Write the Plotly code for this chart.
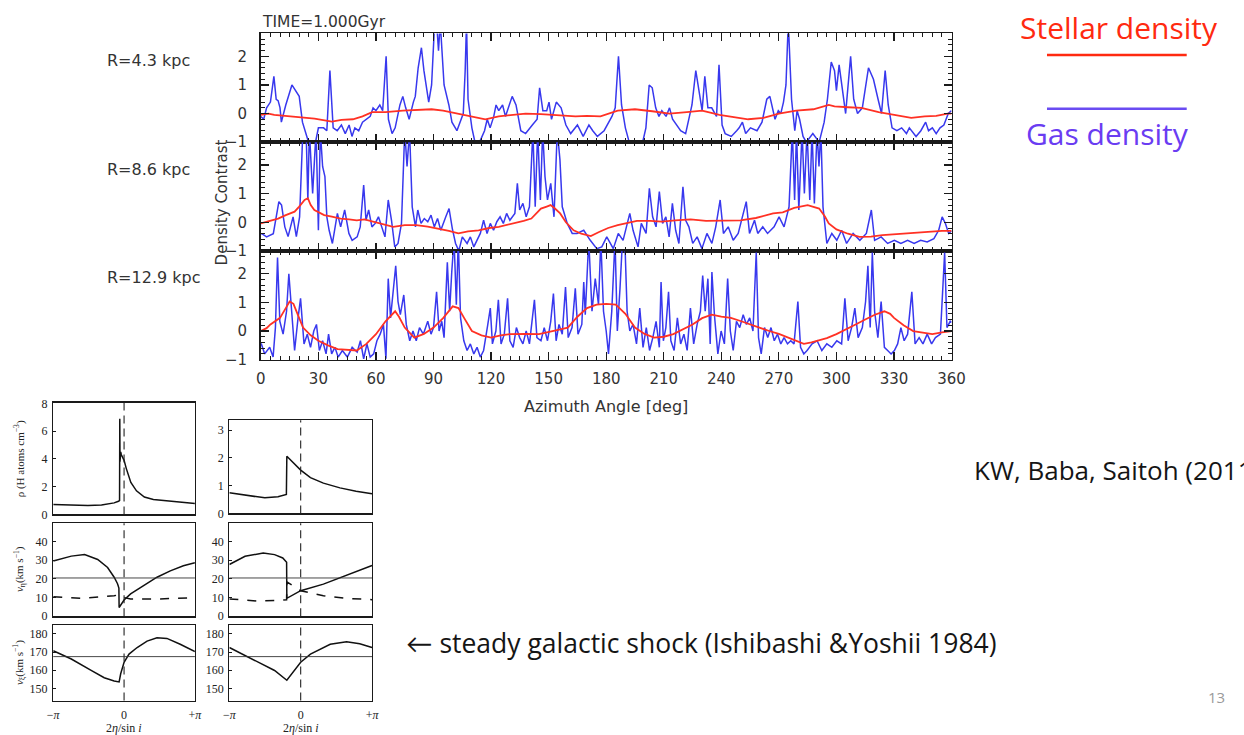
import math
import plotly.graph_objects as go

# ------------------------------------------------------------------ data
# (azimuth deg, density contrast)
R43_GAS = [(0,-0.1),(1.5,-0.2),(3,0.2),(5,0.4),(6.8,1.3),(8,0.5),(9,0.45),(10,0.2),(10.7,-0.3),(13,0.3),(16.2,1.0),(18.3,0.8),(20,0.6),(21.7,-0.3),(24.4,-0.9),(26,-1.0),(28.5,-1.0),(30,-0.5),(32.7,-0.5),(34.4,-0.6),(36,1.5),(37.7,-0.5),(39.8,-0.6),(42,-0.4),(44,-0.7),(46,-0.4),(47.5,-0.8),(49,-0.5),(51,-0.6),(53,-0.3),(55,-0.2),(57,-0.1),(58.5,0.2),(60,0.1),(62,0.3),(63.5,0.1),(65.3,2.0),(66.5,-0.2),(68.4,-0.7),(70,-0.5),(72.5,0.3),(74,0.6),(75.5,0.2),(77.3,-0.2),(79.5,0.4),(80.5,0.6),(82,1.6),(83.7,2.3),(85,1.5),(86.5,0.8),(87.5,0.4),(89,1.0),(90,2.0),(90.6,3.2),(92,2.8),(92.6,2.2),(93.5,3.2),(95.5,1.0),(98,0.3),(99.6,-0.3),(102.2,-0.6),(104,-0.3),(105.5,0.0),(106.5,1.5),(107.2,3.2),(108,0.5),(110,-0.5),(111.6,-1.0),(114,-1.0),(116.6,-0.6),(118,-0.2),(119.5,-0.5),(121.4,-0.1),(122.6,0.3),(124,0.1),(126,0.3),(127.5,-0.1),(131,0.6),(133,0.3),(135.5,-0.6),(138,-0.7),(141.5,-0.4),(144,-0.2),(145.3,0.9),(147,0.1),(149,0.1),(150.2,0.4),(151.5,-0.2),(154,0.4),(156.5,0.2),(159,-0.4),(161.5,-0.7),(165,-0.4),(168,-0.8),(171,-0.4),(173,-0.6),(175.4,-0.8),(178.9,-0.6),(183,-0.1),(184.7,0.2),(186.4,2.0),(188,0.3),(190,-0.5),(192,-1.0),(195.6,-1.0),(199,-1.0),(200.7,-0.5),(202.4,1.0),(204,0.9),(205.8,0.2),(207.5,-0.1),(209,0.1),(211.2,-0.1),(213,0.2),(214.6,-0.2),(218.8,-0.6),(221.4,-0.7),(223,-0.2),(224.7,0.3),(226.7,1.5),(228.5,0.8),(230,0.1),(231.4,1.3),(233,0.2),(235,0.2),(237.5,-0.1),(238.8,1.7),(240.4,-0.4),(242,-0.7),(245.2,-0.8),(248,-0.6),(249.3,-0.5),(251,-0.3),(252.7,-0.7),(255.2,-0.5),(258.6,-0.6),(261.2,-0.3),(263.7,0.5),(265.3,0.6),(268,-0.2),(269.7,0.1),(271,0.0),(272.4,0.4),(273.7,1.0),(274.9,3.2),(276.6,0.5),(278.3,-0.6),(279.5,0.1),(280.8,-0.2),(282.6,-0.8),(284.3,-1.0),(287.7,-0.7),(291,-1.0),(293.6,-0.3),(295.3,0.5),(297.3,1.8),(299,1.5),(300,0.8),(301.4,1.7),(303.5,0.6),(304.8,0.0),(307.4,2.0),(309,0.5),(311,0.0),(313.5,0.2),(316.7,1.6),(319.3,1.2),(321.7,0.5),(323.5,0.0),(325.4,1.5),(327,0.3),(329,-0.5),(331.5,-0.6),(334,-0.5),(336.5,-0.7),(338,-0.5),(341.5,-0.8),(344,-0.6),(346.5,-0.3),(348,-0.6),(350,-0.5),(352,-0.7),(354,-0.5),(356,-0.4),(358.3,0.0),(360,0.1)]

R43_STAR = [(0,-0.05),(4,0.0),(7,-0.05),(12,-0.08),(20,-0.15),(28,-0.18),(37,-0.28),(42,-0.22),(48,-0.2),(53,-0.1),(58,0.05),(65,0.05),(74,0.1),(82,0.12),(89,0.15),(95,0.1),(102,0.0),(107,-0.05),(112,-0.12),(117,-0.2),(124,-0.1),(130,-0.05),(138,0.0),(146,-0.02),(155,-0.05),(164,-0.1),(170,-0.08),(177,-0.1),(186,0.1),(195,0.15),(204,0.08),(213,0.0),(222,0.05),(230,0.1),(239,-0.05),(246,-0.12),(254,-0.2),(262,-0.15),(270,0.0),(279,0.1),(288,0.15),(296,0.3),(299,0.25),(306,0.22),(313,0.2),(322,0.05),(331,-0.05),(339,-0.15),(346,-0.1),(352,-0.08),(358,0.0),(360,0.0)]

R86_GAS = [(0,-0.4),(0.5,-0.4),(3,-0.51),(6.5,-0.4),(9.4,0.72),(10.8,0.6),(12.5,-0.16),(14.2,-0.5),(16.8,0.19),(18.5,-0.5),(20.2,0.19),(21.9,3.2),(23.6,3.2),(24.5,0.78),(25.3,3.2),(27,1.01),(28.8,3.2),(30,-0.28),(31,3.2),(32.2,1.95),(33.4,1.6),(34.4,0.19),(35.6,-0.28),(37.3,-0.74),(39.9,0.31),(41.6,-0.16),(43.7,0.43),(45.9,-0.39),(47.6,-0.63),(50.2,-0.51),(51.8,-0.16),(53.6,1.3),(54.8,0.07),(56.2,0.43),(57.9,-0.16),(59.6,-0.04),(61.3,0.19),(63,-0.16),(64.7,-0.51),(66.4,0.78),(68.1,0.07),(69.8,-0.86),(71.5,-0.74),(73.3,-0.04),(75,3.2),(76.2,1.95),(77.5,3.2),(78.9,0.54),(80.6,-0.16),(81.8,0.43),(83.5,-0.04),(85.2,0.13),(87,0.02),(88.7,0.25),(90.4,-0.16),(92.1,0.13),(93.8,-0.28),(96.4,0.19),(98.1,0.48),(99.8,-0.22),(101.5,-0.74),(103.2,-1.0),(105,-0.51),(107.5,-0.74),(109.2,-0.51),(111,-0.86),(112.7,-0.63),(114.4,-0.39),(116.1,0.07),(117.9,-0.39),(119.6,-0.04),(121.3,-0.28),(123,0.02),(124.7,0.19),(126.4,-0.04),(128.1,0.31),(129.8,0.07),(132.4,0.31),(133.7,1.36),(134.9,0.43),(136.6,0.66),(138.3,0.19),(140,0.54),(141.8,3.2),(143,0.54),(144.3,3.2),(145.7,0.78),(146.9,3.2),(148.1,1.6),(149.4,0.78),(151.1,1.36),(152.8,0.19),(154.5,3.2),(155.9,2.18),(157.1,0.54),(159.7,-0.04),(162.3,-0.39),(164.8,-0.39),(168.3,-0.28),(171.7,-0.63),(175.1,-0.92),(177.7,-0.86),(180.3,-0.51),(183.7,-0.92),(186.3,-0.39),(188.8,-0.63),(192.3,0.31),(194,-0.28),(196.6,-0.86),(198.3,-0.04),(200.8,-0.39),(202.5,1.19),(204.2,0.19),(206,-0.16),(207.7,1.07),(209.4,-0.04),(211.1,0.19),(212.8,-0.51),(214.5,0.66),(216.2,-0.28),(217.9,-0.74),(220,1.24),(221.4,0.07),(223.1,-0.16),(225.1,-0.74),(227.4,-0.51),(229.9,-0.92),(232.5,-0.39),(235.1,-0.74),(237.1,-0.16),(239.4,0.78),(241.1,-0.39),(243.6,-0.16),(246.2,-0.63),(248.8,-0.39),(251.3,0.31),(253,0.72),(254.7,-0.39),(257.3,0.07),(259,-0.39),(261.6,-0.16),(264.1,-0.39),(267.5,-0.16),(270.1,0.19),(272.7,-0.16),(275.3,0.54),(277,3.2),(278.2,0.78),(279.2,3.2),(280.4,0.43),(282.1,3.2),(283.3,1.01),(284.7,3.2),(286.1,0.78),(287.3,3.2),(288.5,0.66),(289.9,3.2),(290.9,1.95),(291.9,3.2),(293,0.54),(295,-0.74),(297.6,-0.39),(300.2,-0.63),(302.7,-0.28),(305.3,-0.74),(308.7,-0.39),(312.2,-0.63),(315.6,-0.39),(318.2,0.43),(319.9,-0.63),(323.3,-0.51),(326.7,-0.74),(330.2,-0.63),(333.6,-0.74),(337.1,-0.63),(340.5,-0.74),(343.9,-0.63),(347.3,-0.69),(350.8,-0.57),(353.3,-0.28),(355.1,0.19),(356.8,-0.04),(358.5,-0.39),(360,-0.3)]

R86_STAR = [(0,-0.04),(5,0.05),(9,0.13),(13,0.25),(17.6,0.37),(20,0.55),(22.8,0.78),(24.5,0.84),(26,0.6),(27.9,0.43),(33,0.25),(37,0.2),(41.6,0.13),(46,0.1),(50,0.07),(54,0.1),(58.8,0.02),(64,-0.05),(69,-0.16),(75,-0.1),(81,-0.1),(87,-0.15),(93,-0.22),(98,-0.3),(103,-0.39),(108,-0.32),(113.5,-0.28),(119,-0.2),(124,-0.16),(128,-0.1),(132,-0.04),(137,0.05),(141,0.13),(144,0.35),(146,0.48),(149,0.55),(151,0.6),(153,0.5),(156,0.31),(159,0.0),(163,-0.28),(167,-0.4),(172,-0.48),(176,-0.35),(181,-0.2),(186,-0.1),(190,-0.04),(196,0.05),(203,0.05),(209,0.02),(216,0.07),(224,0.1),(232,0.05),(240,0.05),(250,0.07),(258,0.15),(267,0.31),(272,0.35),(278,0.5),(285,0.6),(288,0.55),(291,0.48),(294,0.2),(296,-0.04),(300,-0.25),(306,-0.4),(312,-0.51),(318,-0.5),(324,-0.45),(330,-0.42),(336,-0.39),(343,-0.35),(350,-0.33),(355,-0.3),(360,-0.3)]

R129_GAS = [(0,-0.45),(0.3,-0.45),(2,-0.8),(4.6,-0.57),(6.4,-0.91),(7.6,0.12),(8.7,2.57),(9.9,0.34),(11.6,-0.11),(13.4,0.69),(14.6,2.0),(15.9,0.8),(17.6,-0.68),(19.4,0.46),(20.7,1.14),(22.5,-0.45),(24.2,-0.11),(25.9,-0.57),(27.6,0.0),(29,0.23),(30.5,-0.68),(32.2,-0.34),(34,-0.8),(35.3,-0.11),(36.9,-0.8),(38.6,-0.57),(40.3,-0.91),(42.5,-0.68),(45.1,-0.91),(47.6,-0.57),(50.2,-0.74),(51.9,-0.34),(53.6,-0.97),(55.3,-0.45),(57,-0.91),(58.8,-0.8),(60.5,-0.34),(62.2,-0.11),(63.9,0.23),(65.2,-0.97),(66.4,1.83),(67.6,0.46),(69,1.37),(70.3,2.28),(71.5,1.03),(72.7,0.57),(74.5,1.26),(75.8,0.23),(77.6,-0.34),(79.3,0.0),(81,-0.34),(82.7,0.12),(84.7,-0.11),(87,0.34),(88.7,-0.11),(90,0.12),(91.6,1.37),(92.9,0.0),(94.3,0.34),(95.5,-0.23),(97.2,2.4),(98.4,0.69),(99.5,2.06),(100.7,3.2),(101.9,0.92),(102.9,3.2),(104.1,0.46),(105.8,-0.34),(107.5,-0.68),(109.2,-0.45),(111,-0.8),(112.7,-0.57),(114.4,-0.91),(116.1,-0.68),(118.3,0.23),(119.6,0.8),(120.7,-0.45),(122.5,0.0),(123.8,1.09),(125.2,-0.45),(126.9,-0.11),(128.6,1.14),(129.8,-0.34),(131.5,-0.57),(133.2,0.12),(134.9,-0.23),(136.6,-0.45),(138.3,0.0),(140,-0.45),(142.6,1.09),(143.9,-0.23),(146,-0.34),(147.7,0.12),(149.4,-0.34),(151.1,0.34),(152.5,1.31),(153.9,-0.34),(155.4,0.23),(157.1,-0.11),(158.8,1.54),(160.2,-0.23),(162.2,0.12),(163.9,1.49),(165.3,-0.11),(167.3,0.23),(168.3,1.71),(169.1,0.57),(170.9,3.2),(172.6,0.69),(174.3,1.83),(176,0.92),(177.2,3.2),(178.6,0.69),(180,0.0),(181.2,-0.8),(182.9,0.69),(184.6,3.2),(185.8,0.0),(187.2,1.49),(188.5,3.2),(189.7,3.2),(190.9,0.69),(192.3,0.0),(194,0.23),(195.8,-0.45),(197.5,0.8),(199.2,-0.57),(200.9,0.12),(202.6,-0.68),(204.3,-0.23),(206,0.34),(207.7,-0.57),(208.6,1.71),(209.8,-0.34),(211.1,0.12),(212.5,1.37),(213.7,-0.34),(215.4,-0.68),(217.1,0.46),(218.8,-0.45),(220.5,-0.11),(222.2,-0.68),(223.9,0.8),(225.6,-0.45),(227.4,0.23),(229.1,0.69),(230.3,1.94),(231.6,0.69),(233,1.83),(234.2,-0.45),(235.1,2.06),(236.4,0.57),(238.2,-0.8),(239.9,0.0),(241.6,-0.45),(243.3,1.83),(244.7,0.0),(246.2,-0.68),(247.9,0.34),(249.6,0.12),(251.4,0.57),(253.1,0.23),(254.8,0.46),(256.5,0.0),(258.2,2.74),(259.4,-0.23),(260.8,-0.8),(262.5,0.12),(264.2,-0.23),(265.9,0.12),(267.6,-0.34),(269.3,-0.11),(271,-0.45),(272.7,-0.23),(274.5,-0.45),(276.2,-0.34),(277.9,-0.45),(279.9,1.03),(281.3,-0.57),(283,-0.8),(284.7,-0.68),(287.3,-0.45),(289.9,-0.34),(292.4,-0.68),(295,-0.45),(297.6,-0.57),(300.2,-0.34),(302.7,-0.45),(304.4,1.14),(306.1,-0.34),(307.9,0.12),(309.6,0.8),(311.3,-0.23),(313.5,0.12),(315.2,1.03),(316.4,2.28),(317.6,0.12),(318.7,2.74),(319.9,0.69),(321.6,-0.23),(323.3,1.03),(325,-0.57),(326.7,-0.68),(328.5,-0.8),(330.2,-0.68),(331.9,-0.45),(333.6,0.12),(335.3,-0.34),(337.1,-0.11),(339.3,1.37),(341,-0.45),(343.1,-0.23),(345.1,-0.45),(347.3,-0.11),(349.6,-0.45),(351.6,-0.23),(354.2,-0.11),(356.4,2.74),(357.6,0.12),(359.3,0.34),(360,0.3)]

R129_STAR = [(0,0.0),(3,0.1),(5,0.23),(8,0.35),(10,0.46),(13,0.8),(15,1.03),(17,0.95),(18,0.8),(20,0.45),(22,0.12),(26,-0.15),(30,-0.34),(35,-0.5),(40,-0.63),(45,-0.65),(50,-0.68),(55,-0.45),(60,-0.11),(65,0.34),(68,0.55),(70,0.69),(72,0.5),(75,0.12),(80,-0.23),(85,-0.1),(90,0.12),(95,0.45),(100,0.86),(103,0.8),(106,0.45),(110,0.0),(115,-0.15),(120,-0.23),(125,-0.15),(130,-0.11),(138,-0.1),(145,-0.11),(152,0.0),(160,0.12),(165,0.5),(170,0.8),(175,0.92),(180,0.95),(185,0.92),(190,0.6),(195,0.12),(200,-0.1),(205,-0.23),(210,-0.2),(215,-0.11),(220,0.05),(225,0.23),(230,0.45),(235,0.57),(240,0.5),(245,0.46),(250,0.35),(255,0.23),(260,0.1),(265,0.0),(270,-0.1),(275,-0.23),(280,-0.35),(283,-0.45),(287,-0.4),(290,-0.34),(295,-0.25),(300,-0.11),(305,0.05),(310,0.23),(315,0.4),(320,0.57),(325,0.69),(328,0.6),(330,0.46),(335,0.2),(340,0.0),(345,-0.05),(350,-0.11),(355,-0.05),(360,0.0)]

PANEL_LABELS = ["R=4.3 kpc", "R=8.6 kpc", "R=12.9 kpc"]
ANGLE_TICKS = [0, 30, 60, 90, 120, 150, 180, 210, 240, 270, 300, 330, 360]

# steady galactic shock (Ishibashi & Yoshii 1984), phase in radians
PI = math.pi
L_RHO = [(-PI,0.72),(-2.5,0.68),(-1.6,0.64),(-1.0,0.68),(-0.44,0.83),(-0.25,0.95),(-0.2,1.0),(-0.19,6.9),(-0.18,3.8),(-0.17,5.2),(-0.15,4.5),(-0.12,4.3),(-0.06,4.1),(0.0,3.9),(0.1,3.3),(0.2,2.8),(0.3,2.3),(0.55,1.7),(0.9,1.25),(1.3,1.07),(2.0,0.95),(2.6,0.87),(PI,0.79)]
L_VETA = [(-PI,29.6),(-2.34,32.2),(-1.75,33.0),(-1.17,30.4),(-0.73,26.1),(-0.44,20.9),(-0.29,17.4),(-0.23,15.1),(-0.22,4.7),(0.0,8.7),(0.29,12.0),(0.88,16.5),(1.46,20.9),(2.05,24.3),(2.63,27.0),(PI,28.7)]
L_VETA_DASH = [(-PI,10.4),(-1.8,9.6),(-0.44,11.0),(-0.22,11.5),(0.0,10.0),(0.29,9.2),(1.3,9.2),(PI,9.9)]
L_VXI = [(-PI,170.7),(-2.34,166.2),(-1.46,159.9),(-0.88,155.9),(-0.44,154.1),(-0.22,153.6),(-0.15,158.1),(-0.07,161.7),(0.0,164.4),(0.22,168.9),(0.58,172.5),(1.02,176.0),(1.46,177.8),(1.9,177.5),(2.49,174.3),(PI,170.3)]
R_RHO = [(-PI,0.74),(-2.45,0.66),(-1.58,0.56),(-1.0,0.6),(-0.63,0.68),(-0.61,2.06),(-0.43,1.92),(0.0,1.56),(0.43,1.29),(1.0,1.09),(1.73,0.92),(2.44,0.8),(PI,0.71)]
R_VETA = [(-PI,27.7),(-2.45,32.1),(-1.65,33.9),(-1.15,33.0),(-0.79,31.2),(-0.62,28.9),(-0.61,9.6),(0.0,13.7),(1.0,17.2),(2.02,21.9),(PI,27.2)]
R_VETA_DASH = [(-PI,9.3),(-1.87,8.1),(-0.62,8.8),(-0.61,18.4),(0.0,13.7),(1.0,11.0),(2.02,9.6),(PI,8.9)]
R_VXI = [(-PI,172.5),(-1.87,164.4),(-1.15,159.9),(-0.61,154.5),(-0.29,159.9),(0.0,164.4),(0.43,168.9),(1.3,174.3),(2.02,175.7),(2.6,174.6),(PI,172.5)]
VETA_REF = 20.5
VXI_REF = 167.5

# ------------------------------------------------------------------ figure
W, H = 1244, 735
BLUE = "#3838ee"
RED = "#ff3124"
INK = "#1a1a1a"
IDL_FONT = "DejaVu Sans, Liberation Sans, sans-serif"
SERIF = "Liberation Serif, DejaVu Serif, serif"
SLIDE = "Open Sans, Lato, sans-serif"


def fx(p):
    return p / W


def fy(p):
    return 1 - p / H


def unzip(pairs):
    return [a for a, _ in pairs], [b for _, b in pairs]


fig = go.Figure()

main = [("", R43_GAS, R43_STAR), ("2", R86_GAS, R86_STAR), ("3", R129_GAS, R129_STAR)]
for k, gas, star in main:
    gx, gy = unzip(gas)
    sx, sy = unzip(star)
    fig.add_trace(go.Scatter(x=gx, y=gy, mode="lines", line=dict(color=BLUE, width=1.5),
                             xaxis="x" + k, yaxis="y" + k, hoverinfo="skip", showlegend=False))
    fig.add_trace(go.Scatter(x=sx, y=sy, mode="lines", line=dict(color=RED, width=1.8),
                             xaxis="x" + k, yaxis="y" + k, hoverinfo="skip", showlegend=False))

small = [
    ("4", [(L_RHO, "solid")]),
    ("5", [(L_VETA, "solid"), (L_VETA_DASH, "dash")]),
    ("6", [(L_VXI, "solid")]),
    ("7", [(R_RHO, "solid")]),
    ("8", [(R_VETA, "solid"), (R_VETA_DASH, "dash")]),
    ("9", [(R_VXI, "solid")]),
]
for k, series in small:
    for pairs, dash in series:
        xs, ys = unzip(pairs)
        fig.add_trace(go.Scatter(x=xs, y=ys, mode="lines",
                                 line=dict(color="#111", width=1.5, dash=dash),
                                 xaxis="x" + k, yaxis="y" + k, hoverinfo="skip", showlegend=False))

layout = dict(width=W, height=H, margin=dict(l=0, r=0, t=0, b=0),
              paper_bgcolor="white", plot_bgcolor="white", showlegend=False,
              hovermode=False)

MAIN_ROWS = [(28, 139), (139, 250), (250, 361)]
for i, (t, b) in enumerate(MAIN_ROWS):
    k = "" if i == 0 else str(i + 1)
    layout["xaxis" + k] = dict(
        domain=[fx(259), fx(961)], range=[0, 360], anchor="y" + k,
        tickmode="array", tickvals=ANGLE_TICKS, showticklabels=(i == 2),
        ticks="inside", ticklen=8, tickwidth=1.2, tickcolor=INK,
        minor=dict(ticks="inside", ticklen=4, tickwidth=1, tickcolor=INK, dtick=5, tick0=0),
        showline=True, linecolor=INK, linewidth=1.8, mirror="allticks",
        showgrid=False, zeroline=False, ticklabelstandoff=5,
        tickfont=dict(family=IDL_FONT, size=15, color="#333"), fixedrange=True)
    layout["yaxis" + k] = dict(
        domain=[fy(b), fy(t)], range=[-1, 2.8], anchor="x" + k,
        tickmode="linear", tick0=0, dtick=1,
        ticks="inside", ticklen=8, tickwidth=1.2, tickcolor=INK,
        minor=dict(ticks="inside", ticklen=4, tickwidth=1, tickcolor=INK, dtick=0.2, tick0=0),
        showline=True, linecolor=INK, linewidth=1.8, mirror="allticks",
        showgrid=False, zeroline=False, ticklabelstandoff=9,
        tickfont=dict(family=IDL_FONT, size=15, color="#333"), fixedrange=True)

SMALL_AX = {
    "4": ((48, 192), (405, 519), [0, 8.05], [0, 2, 4, 6, 8], False),
    "5": ((48, 192), (528, 623), [0, 49.8], [0, 10, 20, 30, 40], False),
    "6": ((48, 192), (632, 709), [143.4, 184.8], [150, 160, 170, 180], True),
    "7": ((227, 372), (423, 518), [0, 3.35], [0, 1, 2, 3], False),
    "8": ((227, 372), (528, 623), [0, 49.8], [0, 10, 20, 30, 40], False),
    "9": ((227, 372), (632, 709), [143.4, 184.8], [150, 160, 170, 180], True),
}
for k, ((l, r), (t, b), yr, yt, xlab) in SMALL_AX.items():
    layout["xaxis" + k] = dict(
        domain=[fx(l), fx(r)], range=[-PI, PI], anchor="y" + k,
        tickmode="array", tickvals=[-PI, 0, PI], ticktext=["\u2212<i>\u03c0</i>", "0", "+<i>\u03c0</i>"],
        showticklabels=xlab, ticks="", showline=True, linecolor=INK, linewidth=1.3,
        mirror=True, showgrid=False, zeroline=False, ticklabelstandoff=3,
        tickfont=dict(family=SERIF, size=12, color="#222"), fixedrange=True)
    layout["yaxis" + k] = dict(
        domain=[fy(b), fy(t)], range=yr, anchor="x" + k,
        tickmode="array", tickvals=yt, ticks="inside", ticklen=3, tickcolor=INK,
        showline=True, linecolor=INK, linewidth=1.3, mirror=True,
        showgrid=False, zeroline=False, ticklabelstandoff=2,
        tickfont=dict(family=SERIF, size=12, color="#222"), fixedrange=True)

shapes = []
for k in ["4", "5", "6", "7", "8", "9"]:
    shapes.append(dict(type="line", xref="x" + k, yref="y" + k + " domain", x0=0, x1=0, y0=0, y1=1,
                       line=dict(color="#222", width=1.1, dash="8px,5px")))
for k, ref in [("5", VETA_REF), ("8", VETA_REF), ("6", VXI_REF), ("9", VXI_REF)]:
    shapes.append(dict(type="line", xref="x" + k + " domain", yref="y" + k, x0=0, x1=1, y0=ref, y1=ref,
                       line=dict(color="#333", width=0.9)))
# legend swatches on the slide
shapes.append(dict(type="line", xref="paper", yref="paper", x0=fx(1058), x1=fx(1200), y0=fy(50), y1=fy(50),
                   line=dict(color="#ff2a10", width=2.5)))
shapes.append(dict(type="line", xref="paper", yref="paper", x0=fx(1058), x1=fx(1200), y0=fy(105), y1=fy(105),
                   line=dict(color="#6a4cf2", width=2.5)))
layout["shapes"] = shapes


def ann(text, x, y, size, color="#333", family=IDL_FONT, xanchor="left", angle=0):
    return dict(text=text, x=fx(x), y=fy(y), xref="paper", yref="paper", showarrow=False,
                xanchor=xanchor, yanchor="middle", textangle=angle, borderpad=0,
                font=dict(family=family, size=size, color=color))


annotations = [
    ann("TIME=1.000Gyr", 259, 16, 15.5),
    ann("Azimuth Angle [deg]", 610, 409, 16, xanchor="center"),
    ann("Density Contrast", 219, 200, 15, xanchor="center", angle=-90),
    ann("Stellar density", 1131, 22, 30, color="#ff2a10", family=SLIDE, xanchor="center"),
    ann("Gas density", 1120, 130, 30, color="#6a3cf2", family=SLIDE, xanchor="center"),
    ann("KW, Baba, Saitoh (2011)", 983, 474, 26, color="#151515", family=SLIDE),
    ann("\u2190 steady galactic shock (Ishibashi &amp;Yoshii 1984)", 406, 650, 26.5, color="#151515", family=SLIDE),
    ann("13", 1230, 705, 15, color="#9a9a9a", family=SLIDE, xanchor="center"),
    ann("\u03c1 (H atoms cm<sup>\u22123</sup>)", 14, 462, 11, color="#222", family=SERIF, xanchor="center", angle=-90),
    ann("<i>v</i><sub>\u03b7</sub>(km s<sup>\u22121</sup>)", 14, 575, 11, color="#222", family=SERIF, xanchor="center", angle=-90),
    ann("<i>v</i><sub>\u03be</sub>(km s<sup>\u22121</sup>)", 14, 670, 11, color="#222", family=SERIF, xanchor="center", angle=-90),
    ann("2<i>\u03b7</i>/sin <i>i</i>", 120, 737, 12, color="#222", family=SERIF, xanchor="center"),
    ann("2<i>\u03b7</i>/sin <i>i</i>", 300, 737, 12, color="#222", family=SERIF, xanchor="center"),
]
for label, (t, b) in zip(PANEL_LABELS, MAIN_ROWS):
    annotations.append(ann(label, 102, (t + b) / 2 - 28, 16))
layout["annotations"] = annotations

fig.update_layout(**layout)
fig.write_html("out.html", config={"displayModeBar": False, "staticPlot": True},
               post_script=("var s=document.createElement('style');"
                            "s.textContent='html,body{margin:0!important;padding:0!important;overflow:hidden!important;}';"
                            "document.head.appendChild(s);"
                            "document.documentElement.style.margin='0';document.body.style.margin='0';"))
